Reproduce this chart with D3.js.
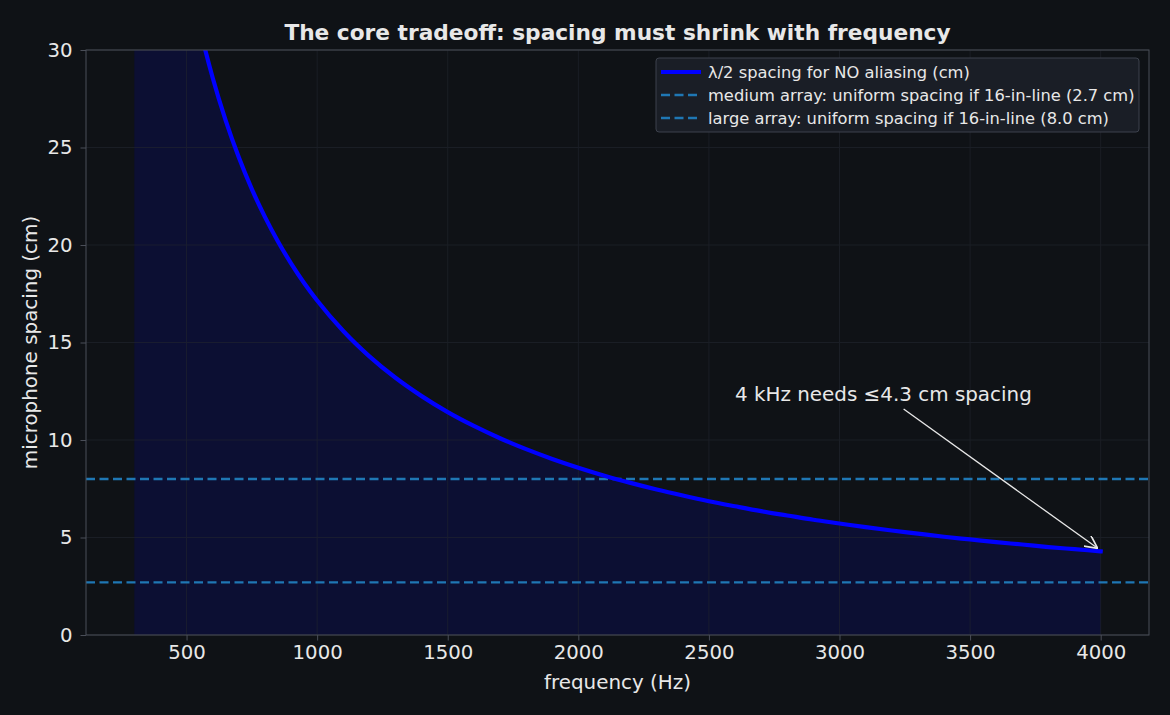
<!DOCTYPE html>
<html><head><meta charset="utf-8">
<script src="https://cdn.jsdelivr.net/npm/d3@7"></script>
<style>
html,body{margin:0;padding:0;background:#0f1216;}
svg{display:block;font-family:"DejaVu Sans",sans-serif;}
</style></head><body>
<svg id="chart" width="1170" height="715"></svg>
<script>
const freqs = [300,350,400,450,500,550,600,650,700,750,800,850,900,950,1000,1100,1200,1300,1400,1500,1600,1700,1800,1900,2000,2100,2200,2300,2400,2500,2600,2700,2800,2900,3000,3100,3200,3300,3400,3500,3600,3700,3800,3900,4000];
const spacingCm = [57.17,49.00,42.88,38.11,34.30,31.18,28.58,26.38,24.50,22.87,21.44,20.18,19.06,18.05,17.15,15.59,14.29,13.19,12.25,11.43,10.72,10.09,9.53,9.03,8.58,8.17,7.80,7.46,7.15,6.86,6.60,6.35,6.13,5.91,5.72,5.53,5.36,5.20,5.04,4.90,4.76,4.64,4.51,4.40,4.29];
const refLines = [2.7, 8.0];
const legendLabels = ["λ/2 spacing for NO aliasing (cm)","medium array: uniform spacing if 16-in-line (2.7 cm)","large array: uniform spacing if 16-in-line (8.0 cm)"];
const xTicks = [500,1000,1500,2000,2500,3000,3500,4000];
const yTicks = [0,5,10,15,20,25,30];
const titleText = "The core tradeoff: spacing must shrink with frequency";
const annotText = "4 kHz needs ≤4.3 cm spacing";
const annotAt = [2600, 12];
const annotTarget = [4000, 4.29];

const svg = d3.select("#chart");
const W = 1170, H = 715;
const m = {l:86, r:21, t:50, b:80};
const x = d3.scaleLinear().domain([115, 4185]).range([m.l, W - m.r]);
const y = d3.scaleLinear().domain([0, 30]).range([H - m.b, m.t]);
const txt = "#e8e8e8", spine = "#4a4e58", grid = "#22262f";

svg.append("rect").attr("width", W).attr("height", H).attr("fill", "#0f1216");

svg.append("defs").append("clipPath").attr("id", "clip")
  .append("rect").attr("x", m.l).attr("y", m.t).attr("width", W - m.l - m.r).attr("height", H - m.t - m.b);

const data = freqs.map((f, i) => [f, spacingCm[i]]);
const plot = svg.append("g").attr("clip-path", "url(#clip)");
plot.append("path").datum(data)
  .attr("d", d3.area().x(d => x(d[0])).y0(y(0)).y1(d => y(d[1])).curve(d3.curveMonotoneX))
  .attr("fill", "#0c0f33");

// grid
const g = svg.append("g").attr("opacity", 0.6);
g.selectAll(".gx").data(xTicks).join("line")
  .attr("x1", d => x(d)).attr("x2", d => x(d)).attr("y1", m.t).attr("y2", H - m.b)
  .attr("stroke", grid).attr("stroke-width", 1);
g.selectAll(".gy").data(yTicks).join("line")
  .attr("x1", m.l).attr("x2", W - m.r).attr("y1", d => y(d)).attr("y2", d => y(d))
  .attr("stroke", grid).attr("stroke-width", 1);

const plot2 = svg.append("g").attr("clip-path", "url(#clip)");
plot2.selectAll(".ref").data(refLines).join("line")
  .attr("x1", m.l).attr("x2", W - m.r).attr("y1", d => y(d)).attr("y2", d => y(d))
  .attr("stroke", "#1f77b4").attr("stroke-width", 2.4).attr("stroke-dasharray", "9,4.5");
plot2.append("path").datum(data)
  .attr("d", d3.line().x(d => x(d[0])).y(d => y(d[1])).curve(d3.curveMonotoneX))
  .attr("fill", "none").attr("stroke", "#0000ff").attr("stroke-width", 4.2).attr("stroke-linecap", "square");

// axes
const xa = svg.append("g").attr("transform", `translate(0,${H - m.b})`)
  .call(d3.axisBottom(x).tickValues(xTicks).tickSize(5.5).tickPadding(5).tickFormat(d3.format("d")));
const ya = svg.append("g").attr("transform", `translate(${m.l},0)`)
  .call(d3.axisLeft(y).tickValues(yTicks).tickSize(5.5).tickPadding(8).tickFormat(d3.format("d")));
[xa, ya].forEach(a => {
  a.select(".domain").remove();
  a.selectAll(".tick line").attr("stroke", spine);
  a.selectAll(".tick text").attr("fill", txt).attr("font-size", 19.7).attr("font-family", "DejaVu Sans");
});
// spines
svg.append("rect").attr("x", m.l).attr("y", m.t).attr("width", W - m.l - m.r).attr("height", H - m.t - m.b)
  .attr("fill", "none").attr("stroke", spine).attr("stroke-width", 1);

// labels
svg.append("text").attr("x", (m.l + W - m.r) / 2).attr("y", 40).attr("text-anchor", "middle")
  .attr("fill", txt).attr("font-size", 21.7).attr("font-weight", "bold").text(titleText);
svg.append("text").attr("x", (m.l + W - m.r) / 2).attr("y", 689).attr("text-anchor", "middle")
  .attr("fill", txt).attr("font-size", 19.9).text("frequency (Hz)");
svg.append("text").attr("transform", `translate(36.5,${(m.t + H - m.b) / 2}) rotate(-90)`).attr("text-anchor", "middle")
  .attr("fill", txt).attr("font-size", 19.9).text("microphone spacing (cm)");

// annotation
svg.append("defs").append("marker").attr("id", "arr").attr("viewBox", "0 0 10 10")
  .attr("refX", 10).attr("refY", 5).attr("markerWidth", 13).attr("markerHeight", 13).attr("markerUnits", "userSpaceOnUse").attr("orient", "auto")
  .append("path").attr("d", "M0,0 L10,5 L0,10").attr("fill", "none").attr("stroke", txt).attr("stroke-width", 1.3);
const at = svg.append("text").attr("x", x(annotAt[0])).attr("y", y(annotAt[1])).attr("fill", txt)
  .attr("font-size", 19.9).text(annotText);
const bb = at.node().getBBox();
const tx = x(annotTarget[0]) - 3, ty = y(annotTarget[1]) - 3;
const cx = bb.x + bb.width / 2, cy = bb.y + bb.height / 2;
const bottom = bb.y + bb.height + 3;
const sx = cx + (bottom - cy) * (tx - cx) / (ty - cy);
svg.append("line").attr("x1", sx).attr("y1", bottom).attr("x2", tx).attr("y2", ty)
  .attr("stroke", txt).attr("stroke-width", 1.3).attr("marker-end", "url(#arr)");

// legend
const lg = svg.append("g").attr("transform", "translate(656,58)");
lg.append("rect").attr("width", 483).attr("height", 74).attr("rx", 3)
  .attr("fill", "#1a1e26").attr("stroke", "#3c414c").attr("stroke-width", 1);
legendLabels.forEach((lab, i) => {
  const yy = 14 + i * 23;
  lg.append("line").attr("x1", 5).attr("x2", 45).attr("y1", yy).attr("y2", yy)
    .attr("stroke", i === 0 ? "#0000ff" : "#1f77b4").attr("stroke-width", i === 0 ? 4.2 : 2.4)
    .attr("stroke-dasharray", i === 0 ? null : "9,4.5");
  lg.append("text").attr("x", 52).attr("y", yy + 5.5).attr("fill", txt).attr("font-size", 16.3).text(lab);
});
</script>
</body></html>
